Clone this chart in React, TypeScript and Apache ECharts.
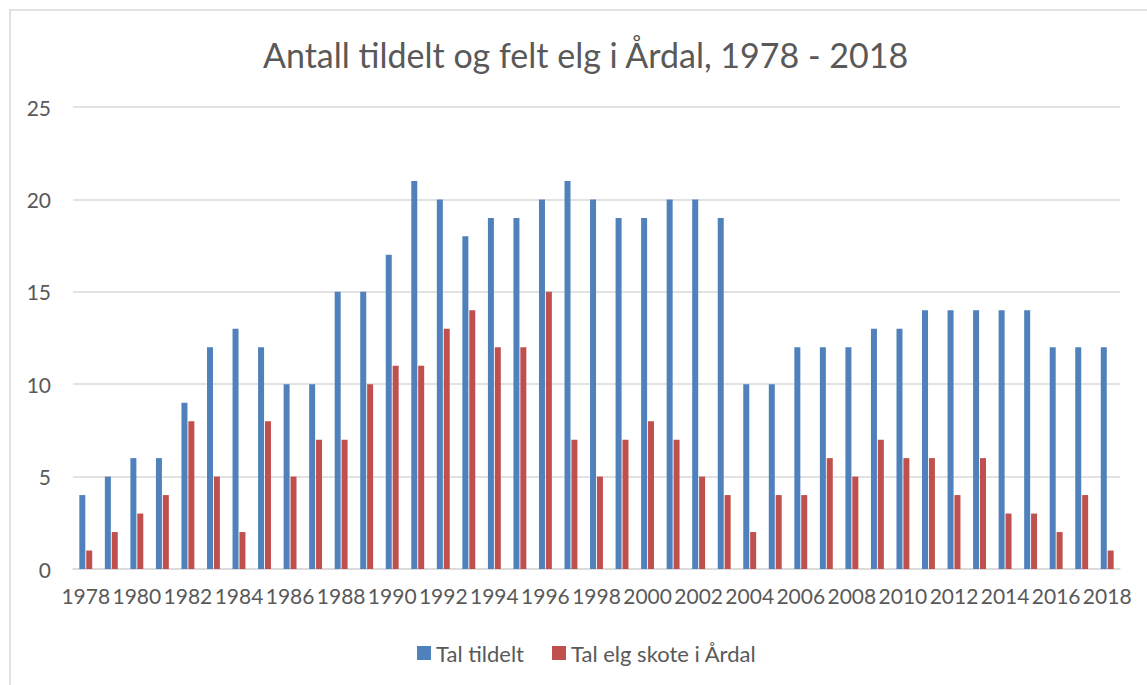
import React, { useEffect, useRef } from "react";
import * as echarts from "echarts";

const years: string[] = [];
for (let y = 1978; y <= 2018; y++) years.push(String(y));

const talTildelt = [4, 5, 6, 6, 9, 12, 13, 12, 10, 10, 15, 15, 17, 21, 20, 18, 19, 19, 20, 21, 20, 19, 19, 20, 20, 19, 10, 10, 12, 12, 12, 13, 13, 14, 14, 14, 14, 14, 12, 12, 12];
const talSkote = [1, 2, 3, 4, 8, 5, 2, 8, 5, 7, 7, 10, 11, 11, 13, 14, 12, 12, 15, 7, 5, 7, 8, 7, 5, 4, 2, 4, 4, 6, 5, 7, 6, 6, 4, 6, 3, 3, 2, 4, 1];

const titleText = "Antall tildelt og felt elg i Årdal, 1978 - 2018";
const seriesNames = ["Tal tildelt", "Tal elg skote i Årdal"];

export default function App() {
  const ref = useRef<HTMLDivElement>(null);
  useEffect(() => {
    if (!ref.current) return;
    const chart = echarts.init(ref.current, undefined, { renderer: "svg" });
    const font = "Lato, 'Open Sans', sans-serif";
    chart.setOption({
      animation: false,
      backgroundColor: "#ffffff",
      textStyle: { fontFamily: font },
      graphic: [
        {
          type: "rect",
          shape: { x: 10, y: 10, width: 1200, height: 800 },
          style: { fill: "none", stroke: "#d9d9d9", lineWidth: 1.5 },
          silent: true,
          z: -1,
        },
      ],
      title: {
        text: titleText,
        left: 258,
        top: 32,
        textStyle: { fontFamily: font, fontSize: 34, fontWeight: "normal", color: "#595959" },
      },
      legend: {
        data: seriesNames,
        left: 412,
        top: 637,
        itemWidth: 14,
        itemHeight: 14,
        itemGap: 28,
        icon: "rect",
        textStyle: { fontFamily: font, fontSize: 22, color: "#595959" },
      },
      grid: { left: 73, right: 27, top: 107, bottom: 116 },
      xAxis: {
        type: "category",
        data: years,
        axisLine: { lineStyle: { color: "#d9d9d9", width: 1.5 } },
        axisTick: { show: false },
        axisLabel: { interval: 1, color: "#595959", fontSize: 21, margin: 16, fontFamily: font },
      },
      yAxis: {
        type: "value",
        min: 0,
        max: 25,
        interval: 5,
        axisLine: { show: false },
        axisTick: { show: false },
        splitLine: { lineStyle: { color: "#d9d9d9", width: 1.5 } },
        axisLabel: { color: "#595959", fontSize: 21, margin: 22, fontFamily: font },
      },
      series: [
        {
          name: seriesNames[0],
          type: "bar",
          data: talTildelt,
          barWidth: 6,
          barGap: "15%",
          itemStyle: { color: "#4f81bd" },
        },
        {
          name: seriesNames[1],
          type: "bar",
          data: talSkote,
          barWidth: 6,
          itemStyle: { color: "#c0504d" },
        },
      ],
    });
    return () => chart.dispose();
  }, []);
  return (
    <div
      ref={ref}
      style={{ position: "fixed", left: 0, top: 0, width: 1147, height: 685 }}
    />
  );
}
